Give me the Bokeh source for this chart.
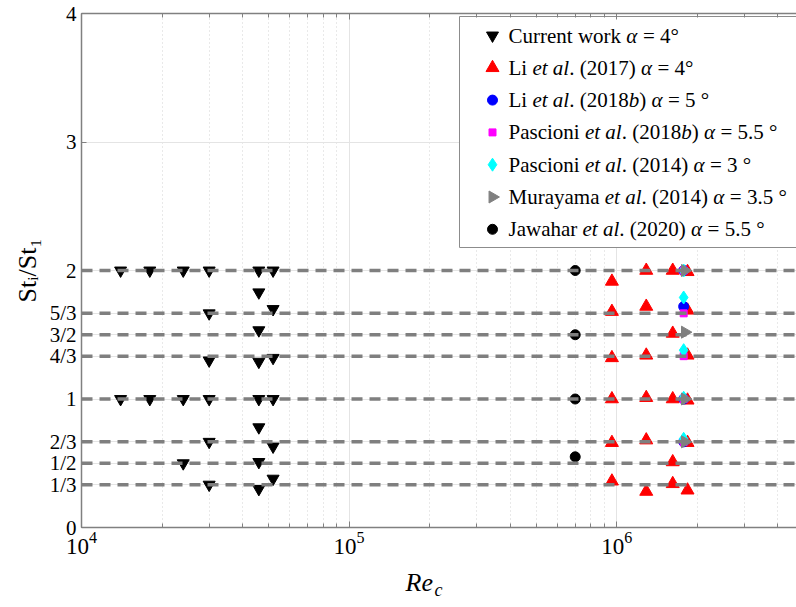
import numpy as np
from bokeh.plotting import figure
from bokeh.models import (Range1d, LinearScale, LogAxis, LogTicker, FixedTicker,
                          Label, ColumnDataSource, Span)
from bokeh.core.properties import value
from bokeh.embed import file_html
from bokeh.resources import INLINE

# ---------------------------------------------------------------- data
harmonics = [1/3, 1/2, 2/3, 1, 4/3, 3/2, 5/3, 2]
y_ticks = [0, 1/3, 1/2, 2/3, 1, 4/3, 3/2, 5/3, 2, 3, 4]
y_tick_labels = ["0", "1/3", "1/2", "2/3", "1", "4/3", "3/2", "5/3", "2", "3", "4"]

current_re = [14000] * 2 + [18000] * 2 + [24000] * 3 + [30000] * 6 + [46000] * 8 + [52000] * 6
current_st = [2, 1,
              2, 1,
              2, 1, 0.5,
              2, 5/3, 1.30, 1, 2/3, 1/3,
              2, 1.83, 1.535, 1.29, 1, 0.78, 0.51, 0.30,
              2, 1.70, 1.32, 1, 0.63, 0.38]

li17_re = [9.6e5] * 6 + [1.29e6] * 6 + [1.62e6] * 5 + [1.84e6] * 6
li17_st = [1.915, 1.68, 1.32, 1.0, 0.66, 0.36,
           2.0, 1.72, 1.34, 1.01, 0.68, 0.28,
           2.0, 1.51, 1.0, 0.51, 0.34,
           1.99, 1.69, 1.34, 0.99, 0.66, 0.29]

li18_re = [1.78e6] * 4
li18_st = [2, 1.72, 1, 2/3]

pas18_re = [1.78e6] * 5
pas18_st = [2, 5/3, 4/3, 1, 2/3]

pas14_re = [1.78e6] * 5
pas14_st = [2, 1.79, 1.38, 1.01, 0.69]

mur_re = [1.80e6] * 4
mur_st = [2, 1.52, 1, 2/3]

jaw_re = [7.0e5] * 4
jaw_st = [2, 1.5, 1, 0.55]

# legend text, *...* marks italic runs
series_labels = [
    "Current work *α* = 4°",
    "Li *et al*. (2017) *α* = 4°",
    "Li *et al*. (2018*b*) *α* = 5 °",
    "Pascioni *et al*. (2018*b*) *α* = 5.5 °",
    "Pascioni *et al*. (2014) *α* = 3 °",
    "Murayama *et al*. (2014) *α* = 3.5 °",
    "Jawahar *et al*. (2020) *α* = 5.5 °",
]

# ---------------------------------------------------------------- styles
SERIF = "Liberation Serif"
FRAME_W, FRAME_H = 715, 514

series_style = [
    dict(marker="inverted_triangle", color="black", size=12, angle=0.0),
    dict(marker="triangle", color="red", size=13, angle=0.0),
    dict(marker="circle", color="blue", size=10, angle=0.0),
    dict(marker="square", color="magenta", size=7, angle=0.0),
    dict(marker="diamond", color="cyan", size=13, angle=0.0),
    dict(marker="triangle", color="gray", size=12, angle=-np.pi / 2),
    dict(marker="circle", color="black", size=10, angle=0.0),
]
series_data = [(current_re, current_st), (li17_re, li17_st), (li18_re, li18_st),
               (pas18_re, pas18_st), (pas14_re, pas14_st), (mur_re, mur_st),
               (jaw_re, jaw_st)]

# Times-compatible advance widths (per 1000 em) for laying out mixed-style text
ROMAN = {" ": 250, "(": 333, ")": 333, ".": 250, "/": 278, "=": 564, "°": 400,
         "C": 667, "J": 389, "L": 611, "M": 889, "P": 556, "S": 556,
         "a": 444, "c": 444, "e": 444, "h": 500, "i": 278, "k": 500, "m": 778,
         "n": 500, "o": 500, "r": 333, "s": 389, "t": 278, "u": 500, "w": 722,
         "y": 500}
ITALIC = {" ": 250, "a": 500, "b": 500, "c": 444, "e": 444, "i": 278, "l": 278,
          "t": 278, "R": 611, "α": 540}


def text_width(s, italic, size):
    table = ITALIC if italic else ROMAN
    return sum(table.get(ch, 500) for ch in s) * size / 1000.0


def runs(markup):
    return [(s, i % 2 == 1) for i, s in enumerate(markup.split("*")) if s]


# ---------------------------------------------------------------- figure
p = figure(width=796, height=607, x_axis_type="log",
           x_range=Range1d(1e4, 4.7e6), y_range=Range1d(0, 4),
           output_backend="svg", toolbar_location=None,
           min_border_left=81, min_border_right=0,
           min_border_top=13, min_border_bottom=80)
p.outline_line_color = None
p.background_fill_color = "white"
p.border_fill_color = "white"

# pixel-space ranges for the legend box
p.extra_x_ranges = {"px": Range1d(0, FRAME_W)}
p.extra_x_scales = {"px": LinearScale()}
p.extra_y_ranges = {"py": Range1d(0, FRAME_H)}

AXIS_COLOR = "#808080"

xa = p.xaxis[0]
xa.ticker = LogTicker(num_minor_ticks=10)
xa.axis_line_color = AXIS_COLOR
xa.axis_line_width = 1.5
xa.major_tick_line_color = AXIS_COLOR
xa.minor_tick_line_color = AXIS_COLOR
xa.major_tick_in, xa.major_tick_out = 6, 0
xa.minor_tick_in, xa.minor_tick_out = 4, 0
xa.major_label_text_font = SERIF
xa.major_label_text_font_size = "23px"
xa.major_label_text_color = "black"
xa.major_label_standoff = 4

top = LogAxis(ticker=LogTicker(num_minor_ticks=10))
top.axis_line_color = AXIS_COLOR
top.axis_line_width = 1.5
top.major_tick_line_color = AXIS_COLOR
top.minor_tick_line_color = AXIS_COLOR
top.major_tick_in, top.major_tick_out = 6, 0
top.minor_tick_in, top.minor_tick_out = 4, 0
top.major_label_text_font_size = "1px"
top.major_label_text_alpha = 0
top.major_label_standoff = 0
p.add_layout(top, "above")

ya = p.yaxis[0]
ya.ticker = FixedTicker(ticks=y_ticks)
ya.major_label_overrides = dict(zip(y_ticks, y_tick_labels))
ya.axis_line_color = AXIS_COLOR
ya.axis_line_width = 1.5
ya.major_tick_line_color = AXIS_COLOR
ya.major_tick_in, ya.major_tick_out = 5, 0
ya.minor_tick_line_color = None
ya.major_label_text_font = SERIF
ya.major_label_text_font_size = "21px"
ya.major_label_text_color = "black"
ya.major_label_standoff = 5
ya.axis_label = "St\u1d62/St\u2081"
ya.axis_label_text_font = SERIF
ya.axis_label_text_font_style = "normal"
ya.axis_label_text_font_size = "26px"
ya.axis_label_text_color = "black"
ya.axis_label_standoff = 5

p.xgrid.grid_line_color = "#e4e4e4"
p.xgrid.minor_grid_line_color = "#d2d2d2"
p.xgrid.minor_grid_line_dash = "1 3"
p.ygrid.grid_line_color = "#e4e4e4"

# ---------------------------------------------------------------- data marks
for (re, st), sty in zip(series_data, series_style):
    p.scatter(re, st, marker=sty["marker"], size=sty["size"], angle=sty["angle"],
              fill_color=sty["color"], line_color=sty["color"], line_width=1)

# harmonic reference lines drawn over the markers
for h in harmonics:
    p.add_layout(Span(location=h, dimension="width", line_color="#7f7f7f",
                      line_width=3.5, line_dash="11 7"))

# ---------------------------------------------------------------- legend
LEG_LEFT, LEG_TOP, LEG_BOTTOM = 378, 511, 280
ROW0, ROW_STEP = 492, 32.3
MARK_X, TEXT_X, LEG_FONT = 411, 427, 21

p.quad(left=[LEG_LEFT], right=[FRAME_W + 40], top=[LEG_TOP], bottom=[LEG_BOTTOM],
       x_range_name="px", y_range_name="py",
       fill_color="white", line_color="#8c8c8c", line_width=1)

tx, ty, tt, ts = [], [], [], []
for i, (lab, sty) in enumerate(zip(series_labels, series_style)):
    yrow = ROW0 - i * ROW_STEP
    p.scatter([MARK_X], [yrow], marker=sty["marker"], size=sty["size"],
              angle=sty["angle"], fill_color=sty["color"], line_color=sty["color"],
              x_range_name="px", y_range_name="py")
    x = TEXT_X
    for s, it in runs(lab):
        # leading blanks are collapsed by svg, so advance past them instead
        lead = len(s) - len(s.lstrip(" "))
        x += text_width(" " * lead, it, LEG_FONT)
        s = s.lstrip(" ")
        if s.strip():
            tx.append(x); ty.append(yrow); tt.append(s)
            ts.append("italic" if it else "normal")
        x += text_width(s, it, LEG_FONT)

p.text(x="x", y="y", text="text", text_font_style="style",
       source=ColumnDataSource(dict(x=tx, y=ty, text=tt, style=ts)),
       text_font=value(SERIF), text_font_size=f"{LEG_FONT}px",
       text_baseline="middle", text_align="left", text_color="black",
       x_range_name="px", y_range_name="py")

# ---------------------------------------------------------------- x title
# "Re" sits in its own panel under the axis; the subscript lives in a slim
# left-hand panel and is pushed across to follow it.
XL_SIZE, XL_SUB = 26, 18
p.add_layout(Label(x=324, y=3, x_units="screen", y_units="screen", text="Re",
                   text_font=SERIF, text_font_style="italic", text_color="black",
                   text_font_size=f"{XL_SIZE}px", text_baseline="alphabetic"),
             "below")
p.add_layout(Label(x=433, y=-62, x_units="screen", y_units="screen", text="c",
                   text_font=SERIF, text_font_style="italic", text_color="black",
                   text_font_size=f"{XL_SUB}px", text_baseline="alphabetic"),
             "left")

open("out.html", "w").write(file_html(p, INLINE))
